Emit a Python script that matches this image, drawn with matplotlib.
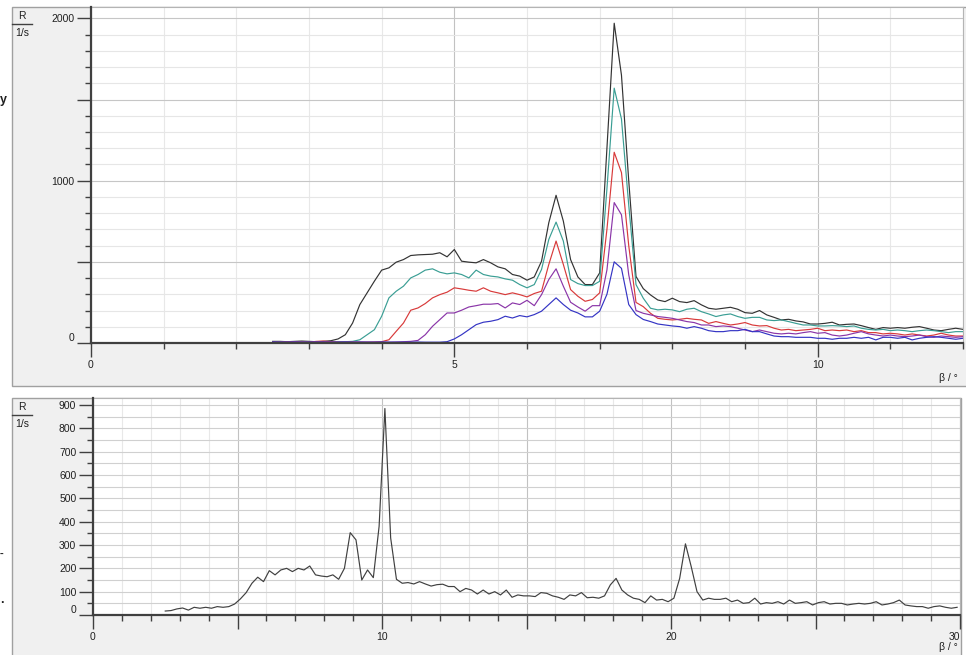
import numpy as np
import matplotlib.pyplot as plt
from matplotlib.patches import Rectangle
from matplotlib.lines import Line2D
from matplotlib.ticker import MultipleLocator

plt.rcParams['font.family'] = ['Liberation Sans', 'DejaVu Sans']

# top chart: 5 scans, beta from 2.5 deg in 0.1 steps
top_start, top_step = 2.5, 0.1
black = [10, 10, 8, 10, 12, 10, 8, 10, 14,
         25, 51, 123, 237, 309, 381, 449, 463, 498, 514, 539, 543, 545, 547, 556, 531,
         576, 504, 498, 494, 514, 494, 469, 457, 422, 412, 387, 407, 504, 741, 910, 751,
         514, 407, 360, 360, 432, 1200, 1970, 1650, 1000, 410, 335, 296, 265, 255, 276,
         255, 249, 261, 235, 214, 208, 214, 220, 208, 187, 183, 200, 173, 158, 142, 146,
         136, 130, 117, 117, 121, 128, 111, 115, 117, 107, 95, 84, 95, 91, 95, 91, 97,
         101, 91, 80, 76, 84, 91, 84]
teal = [5, 6, 5, 6, 5, 5, 6, 5, 6, 8, 8, 10,
        20, 51, 82, 165, 278, 319, 350, 401, 422, 449, 457, 436, 426, 432, 422, 401,
        449, 422, 412, 407, 395, 387, 360, 340, 360, 453, 638, 745, 628, 391, 366, 354,
        354, 380, 950, 1570, 1380, 850, 360, 276, 214, 204, 208, 204, 193, 208, 214,
        193, 179, 163, 173, 179, 163, 152, 158, 158, 142, 138, 142, 132, 121, 111, 111,
        105, 105, 107, 105, 101, 105, 91, 84, 80, 84, 76, 80, 76, 70, 76, 80, 76, 70,
        64, 70, 70]
red = [5, 5, 6, 8, 6, 5, 10, 12, 8, 5, 5, 6, 5, 5, 6, 8,
       20, 72, 123, 202, 216, 243, 278, 298, 313, 340, 333, 325, 319, 340, 319, 309,
       298, 309, 298, 284, 305, 319, 484, 628, 484, 329, 288, 257, 268, 309, 700, 1175,
       1050, 600, 250, 224, 183, 152, 146, 142, 146, 152, 146, 142, 121, 132, 121, 111,
       117, 126, 111, 105, 107, 91, 80, 84, 76, 80, 84, 91, 76, 80, 76, 80, 70, 76, 64,
       64, 56, 60, 56, 49, 56, 49, 43, 49, 60, 49, 43, 43]
purple = [5, 5, 5, 6, 5, 5, 5, 6, 5, 5, 5, 5, 6, 5, 5, 5, 5, 6, 8, 10,
          16, 51, 103, 144, 185, 185, 202, 222, 230, 239, 239, 243, 216, 247, 237, 263,
          230, 298, 391, 457, 350, 251, 222, 196, 230, 230, 450, 865, 790, 420, 200, 183,
          173, 163, 158, 152, 142, 132, 126, 111, 111, 101, 105, 101, 91, 80, 70, 80, 70,
          60, 56, 60, 56, 64, 70, 60, 64, 49, 43, 49, 60, 70, 56, 49, 43, 49, 43, 39, 43,
          49, 39, 35, 43, 39, 35, 39]
blue = [6, 5, 5, 6, 5, 5, 6, 5, 5, 5, 6, 5, 5, 5, 5, 6, 5, 5, 5, 5, 6, 5, 5, 5,
        8, 25, 51, 82, 113, 128, 134, 144, 165, 154, 169, 161, 175, 196, 237, 278, 237,
        202, 185, 161, 161, 196, 300, 500, 460, 237, 175, 145, 132, 117, 111, 105, 101,
        91, 101, 91, 76, 70, 70, 76, 76, 84, 70, 70, 56, 43, 39, 39, 35, 35, 35, 29, 29,
        23, 29, 29, 35, 29, 35, 19, 35, 35, 29, 35, 19, 29, 35, 39, 35, 29, 23, 29]
top_series = [black, teal, red, purple, blue]
top_colors = ['#333333', '#3a9e94', '#d83a3a', '#8a35a8', '#3434c4']

# bottom chart: single scan, beta from 2.5 deg in 0.2 steps
bot_start, bot_step = 2.5, 0.2
bottom = [17, 19, 26, 30, 21, 33, 29, 33, 29, 36, 33, 36, 47, 69, 96, 136, 162, 143,
          190, 172, 193, 200, 186, 200, 193, 210, 172, 167, 164, 172, 153, 200, 353, 322,
          150, 193, 160, 380, 885, 330, 153, 136, 139, 133, 143, 133, 124, 130, 132, 122,
          122, 100, 114, 107, 90, 107, 90, 100, 86, 107, 76, 86, 82, 82, 79, 96, 93, 82,
          76, 67, 86, 82, 96, 74, 76, 72, 82, 129, 157, 107, 86, 72, 67, 53, 82, 64, 67,
          57, 72, 157, 305, 207, 100, 64, 72, 67, 67, 72, 57, 64, 50, 53, 72, 47, 53, 50,
          57, 47, 64, 50, 53, 57, 43, 53, 57, 47, 50, 50, 43, 47, 50, 47, 50, 57, 43, 47,
          53, 64, 43, 39, 36, 36, 29, 36, 39, 33, 29, 33]

W, H = 966, 655


def fx(px):
    return px / W


def fy(py):
    return 1 - py / H


fig = plt.figure(figsize=(W / 100, H / 100), dpi=100)

# gray window panels
fig.add_artist(Rectangle((fx(12), fy(386)), (970 - 12) / W, (386 - 7) / H,
                         transform=fig.transFigure, facecolor='#f0f0f0',
                         edgecolor='#a0a0a0', lw=1, zorder=0))
fig.add_artist(Rectangle((fx(12), fy(660)), (961 - 12) / W, (660 - 398) / H,
                         transform=fig.transFigure, facecolor='#f0f0f0',
                         edgecolor='#a0a0a0', lw=1, zorder=0))

ax1 = fig.add_axes([fx(91), fy(343), (963 - 91) / W, (343 - 7) / H])
ax2 = fig.add_axes([fx(93), fy(615), (960 - 93) / W, (615 - 398) / H])

for ys, c in zip(top_series, top_colors):
    xs = top_start + top_step * np.arange(len(ys))
    ax1.plot(xs, ys, color=c, lw=0.85, zorder=3)

xb = bot_start + bot_step * np.arange(len(bottom))
ax2.plot(xb, bottom, color='#404040', lw=0.85, zorder=3)

ax1.set_xlim(0, 12)
ax1.set_ylim(0, 2070)
ax2.set_xlim(0, 30)
ax2.set_ylim(0, 930)

ax1.set_xticks([0, 5, 10], ['0', '5', '10'])
ax1.xaxis.set_minor_locator(MultipleLocator(1))
ax1.set_yticks([0, 500, 1000, 1500, 2000], ['0', '', '1000', '', '2000'])
ax1.yaxis.set_minor_locator(MultipleLocator(100))

ax2.set_xticks([0, 5, 10, 15, 20, 25, 30], ['0', '', '10', '', '20', '', '30'])
ax2.xaxis.set_minor_locator(MultipleLocator(1))
ax2.set_yticks(np.arange(0, 901, 100), [str(v) for v in range(0, 901, 100)])
ax2.yaxis.set_minor_locator(MultipleLocator(50))

for ax in (ax1, ax2):
    ax.set_facecolor('white')
    ax.tick_params(which='major', length=10, width=1, color='#404040',
                   labelsize=7.5, labelcolor='#202020', pad=2)
    ax.tick_params(which='minor', length=4, width=1, color='#404040')
    ax.yaxis.get_ticklabels()[0].set_va('bottom')
    for s in ('left', 'bottom'):
        ax.spines[s].set_color('#404040')
        ax.spines[s].set_linewidth(1.6)
        ax.spines[s].set_zorder(4)
    for s in ('top', 'right'):
        ax.spines[s].set_color('#b4b4b4')
        ax.spines[s].set_linewidth(0.8)
    ax.set_axisbelow(True)
    ax.xaxis.grid(which='major', color='#c2c2c2', lw=0.8)
    ax.xaxis.grid(which='minor', color='#e8e8e8', lw=0.8)

ax1.yaxis.grid(which='major', color='#c6c6c6', lw=0.8)
ax1.yaxis.grid(which='minor', color='#e6e6e6', lw=0.8)
ax2.yaxis.grid(which='both', color='#d0d0d0', lw=0.8)
ax2.xaxis.get_ticklabels()[-1].set_ha('right')

# axis captions
for top_px in (16, 407):
    fig.text(fx(22), fy(top_px), 'R', ha='center', va='center', fontsize=7.5, color='#202020')
    fig.add_artist(Line2D([fx(12), fx(32)], [fy(top_px + 8), fy(top_px + 8)],
                          transform=fig.transFigure, color='#404040', lw=1))
    fig.text(fx(22), fy(top_px + 17), '1/s', ha='center', va='center', fontsize=7.5,
             color='#202020')
fig.text(fx(958), fy(378), 'β / °', ha='right', va='center', fontsize=7.5, color='#202020')
fig.text(fx(958), fy(647), 'β / °', ha='right', va='center', fontsize=7.5, color='#202020')

# stray characters at the left border
fig.text(fx(0), fy(100), 'y', ha='left', va='center', fontsize=9, weight='bold', color='#202020')
fig.text(fx(0), fy(554), '-', ha='left', va='center', fontsize=8, weight='bold', color='#202020')
fig.text(fx(0), fy(600), '.', ha='left', va='center', fontsize=9, weight='bold', color='#202020')

fig.savefig('out.png', dpi=100)
